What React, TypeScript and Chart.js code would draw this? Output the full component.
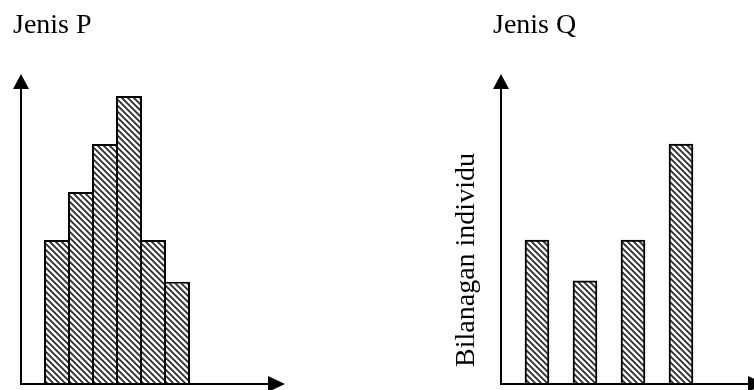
import React, { useEffect, useRef } from 'react';
import { Chart, registerables } from 'chart.js';

Chart.register(...registerables);

const P_TITLE = 'Jenis P';
const Q_TITLE = 'Jenis Q';
const Y_LABEL = 'Bilanagan individu';

const P_VALUES = [3, 4, 5, 6, 3, 2.13];
const Q_VALUES = [3, 2.15, 3, 5];
const P_POSITIONS = [1, 2, 3, 4, 5, 6];
const Q_POSITIONS = [1, 3, 5, 7];
const SLOT_COUNT = 11;
const Y_MAX = 6.46;

const FONT = '28px "Liberation Serif", "Times New Roman", serif';

function buildSlots(values: number[], positions: number[]) {
  const data: (number | null)[] = new Array(SLOT_COUNT).fill(null);
  positions.forEach((p, i) => {
    data[p] = values[i];
  });
  return data;
}

function makeHatch(): CanvasPattern | string {
  const c = document.createElement('canvas');
  c.width = 6;
  c.height = 6;
  const g = c.getContext('2d');
  if (!g) return '#888';
  g.fillStyle = '#fff';
  g.fillRect(0, 0, 6, 6);
  g.strokeStyle = '#2a2a2a';
  g.lineWidth = 1.8;
  g.beginPath();
  g.moveTo(-1, -1);
  g.lineTo(7, 7);
  g.moveTo(-1, 5);
  g.lineTo(1, 7);
  g.moveTo(5, -1);
  g.lineTo(7, 1);
  g.stroke();
  const pat = g.createPattern(c, 'repeat');
  return pat || '#888';
}

type Extra = { title: string; titleX: number; yLabel?: { x: number; y: number } };

const axesPlugin = {
  id: 'axesArrows',
  afterDraw(chart: any, _args: any, opts: any) {
    const ctx: CanvasRenderingContext2D = chart.ctx;
    const { left, right, top, bottom } = chart.chartArea;
    const extra: Extra = opts.extra;
    ctx.save();
    ctx.strokeStyle = '#000';
    ctx.fillStyle = '#000';
    ctx.lineWidth = 2;
    ctx.beginPath();
    ctx.moveTo(left, bottom + 1);
    ctx.lineTo(left, top + 12);
    ctx.moveTo(left - 1, bottom);
    ctx.lineTo(right - 12, bottom);
    ctx.stroke();
    ctx.beginPath();
    ctx.moveTo(left, top);
    ctx.lineTo(left - 8, top + 15);
    ctx.lineTo(left + 8, top + 15);
    ctx.closePath();
    ctx.fill();
    ctx.beginPath();
    ctx.moveTo(right, bottom);
    ctx.lineTo(right - 17, bottom - 8);
    ctx.lineTo(right - 17, bottom + 8);
    ctx.closePath();
    ctx.fill();

    ctx.font = FONT;
    ctx.textBaseline = 'alphabetic';
    ctx.textAlign = 'left';
    ctx.fillText(extra.title, extra.titleX, 33);
    if (extra.yLabel) {
      ctx.translate(extra.yLabel.x, extra.yLabel.y);
      ctx.rotate(-Math.PI / 2);
      ctx.textAlign = 'center';
      ctx.fillText(Y_LABEL, 0, 0);
    }
    ctx.restore();
  },
};

function BarPanel(props: {
  values: number[];
  positions: number[];
  width: number;
  padLeft: number;
  barPct: number;
  extra: Extra;
}) {
  const ref = useRef<HTMLCanvasElement>(null);
  useEffect(() => {
    if (!ref.current) return;
    const hatch = makeHatch();
    const labels = new Array(SLOT_COUNT).fill('').map((_, i) => String(i));
    const chartWidth = SLOT_COUNT * 24;
    const chart = new Chart(ref.current, {
      type: 'bar',
      data: {
        labels,
        datasets: [
          {
            data: buildSlots(props.values, props.positions),
            backgroundColor: hatch as any,
            borderColor: '#000',
            borderWidth: 2,
            borderSkipped: 'start',
            barPercentage: props.barPct,
            categoryPercentage: 1,
          },
        ],
      },
      options: {
        animation: false,
        responsive: false,
        devicePixelRatio: 1,
        layout: {
          padding: {
            left: props.padLeft,
            right: props.width - props.padLeft - chartWidth,
            top: 74,
            bottom: 6,
          },
        },
        scales: {
          x: { display: false },
          y: { display: false, min: 0, max: Y_MAX },
        },
        plugins: {
          legend: { display: false },
          tooltip: { enabled: false },
          axesArrows: { extra: props.extra },
        } as any,
      },
      plugins: [axesPlugin],
    });
    return () => chart.destroy();
  }, []);
  return <canvas ref={ref} width={props.width} height={390} style={{ display: 'block' }} />;
}

export default function App() {
  return (
    <div
      style={{
        position: 'fixed',
        left: 0,
        top: 0,
        width: 754,
        height: 390,
        overflow: 'hidden',
        background: '#fff',
      }}
    >
      <div style={{ position: 'absolute', left: 0, top: 0 }}>
        <BarPanel
          values={P_VALUES}
          positions={P_POSITIONS}
          width={300}
          padLeft={21}
          barPct={26 / 24}
          extra={{ title: P_TITLE, titleX: 13 }}
        />
      </div>
      <div style={{ position: 'absolute', left: 440, top: 0 }}>
        <BarPanel
          values={Q_VALUES}
          positions={Q_POSITIONS}
          width={330}
          padLeft={61}
          barPct={1}
          extra={{ title: Q_TITLE, titleX: 53, yLabel: { x: 34, y: 260 } }}
        />
      </div>
    </div>
  );
}
